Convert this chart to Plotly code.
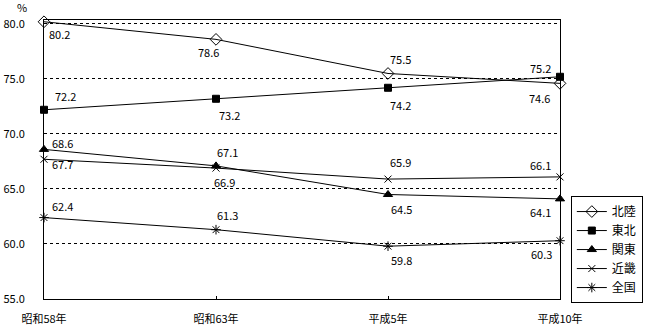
import plotly.graph_objects as go

# Survey years (x categories)
years = ["昭和58年", "昭和63年", "平成5年", "平成10年"]

# Rates (%) by region
hokuriku = [80.2, 78.6, 75.5, 74.6]
tohoku = [72.2, 73.2, 74.2, 75.2]
kanto = [68.6, 67.1, 64.5, 64.1]
kinki = [67.7, 66.9, 65.9, 66.1]
zenkoku = [62.4, 61.3, 59.8, 60.3]

# y-axis tick values
y_ticks = [55, 60, 65, 70, 75, 80]

series = [
    ("北陸", hokuriku, "diamond-open", 9),
    ("東北", tohoku, "square", 7),
    ("関東", kanto, "triangle-up", 8),
    ("近畿", kinki, "x-thin-open", 7),
    ("全国", zenkoku, "asterisk-open", 8),
]

# Pixel offsets (dx right, dy down) of each value label from its point
label_offsets = {
    "北陸": [(15, 12), (-8, 13), (12, -14), (-21, 15)],
    "東北": [(21, -14), (13, 16), (12, 17), (-20, -9)],
    "関東": [(18, -6), (11, -14), (13, 15), (-20, 13)],
    "近畿": [(18, 5), (8, 14), (12, -17), (-20, -12)],
    "全国": [(18, -12), (11, -15), (13, 14), (-19, 13)],
}

FONT = "Noto Sans CJK JP"
FSIZE = 11

fig = go.Figure()
annotations = []
for name, vals, sym, size in series:
    fig.add_trace(go.Scatter(
        x=years, y=vals, name=name, mode="lines+markers",
        line=dict(color="black", width=1),
        marker=dict(symbol=sym, size=size, color="black",
                    line=dict(color="black", width=1)),
        cliponaxis=False,
    ))
    for yr, v, (dx, dy) in zip(years, vals, label_offsets[name]):
        annotations.append(dict(
            x=yr, y=v, xref="x", yref="y", text=f"{v:.1f}",
            showarrow=False, xshift=dx, yshift=-dy,
            xanchor="center", yanchor="middle",
            font=dict(family=FONT, size=FSIZE, color="black"),
        ))

# Unit label above the y axis
annotations.append(dict(
    x=-0.043, y=1.045, xref="paper", yref="paper", text="%",
    xanchor="center", yanchor="middle",
    showarrow=False, font=dict(family=FONT, size=FSIZE, color="black"),
))

fig.update_layout(
    width=650, height=330,
    margin=dict(l=44, r=90, t=20, b=31, autoexpand=False),
    paper_bgcolor="white", plot_bgcolor="white",
    font=dict(family=FONT, size=FSIZE, color="black"),
    showlegend=True,
    legend=dict(
        x=1.021, y=0.369, xanchor="left", yanchor="top",
        bordercolor="black", borderwidth=1, bgcolor="white",
        font=dict(family=FONT, size=12, color="black"),
        tracegroupgap=0, itemwidth=30,
    ),
    annotations=annotations,
)

fig.update_xaxes(
    type="category", range=[0, 3], automargin=False,
    showline=True, linecolor="black", linewidth=1, mirror=True,
    showgrid=False, ticks="inside", ticklen=3, tickcolor="black",
    ticklabelstandoff=10,
)
fig.update_yaxes(
    range=[55, 80.36], tickvals=y_ticks, automargin=False,
    ticktext=[f"{t:.1f}" for t in y_ticks],
    showline=True, linecolor="black", linewidth=1, mirror=True,
    showgrid=True, gridcolor="black", gridwidth=1, griddash="dot",
    zeroline=False, ticks="", ticklabelstandoff=16,
)

fig.write_html("out.html")
